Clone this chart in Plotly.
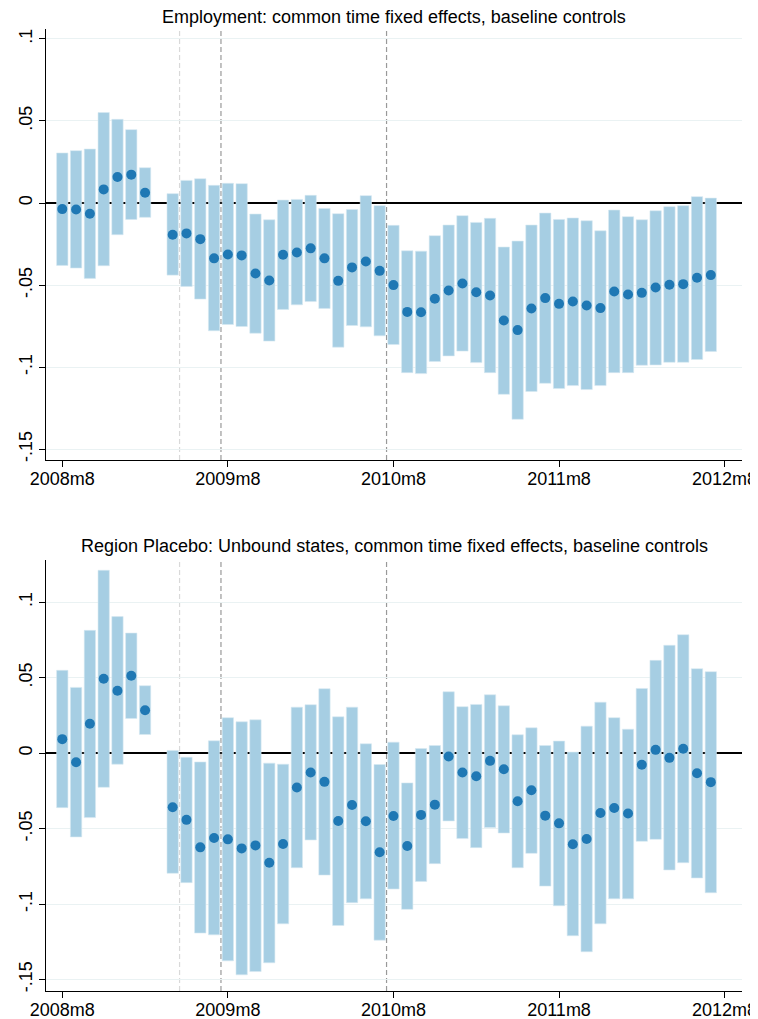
import plotly.graph_objects as go

# month index: 0 = 2008m8 ... 48 = 2012m8 (2009m3 missing)
months = [0, 1, 2, 3, 4, 5, 6] + list(range(8, 48))

emp_pt = [-0.0037, -0.0039, -0.0065, 0.0083, 0.0159, 0.0173, 0.0063,
          -0.0193, -0.0185, -0.0220, -0.0337, -0.0313, -0.0319, -0.0429,
          -0.0472, -0.0315, -0.0301, -0.0276, -0.0337, -0.0474, -0.0392,
          -0.0356, -0.0413, -0.0500, -0.0663, -0.0665, -0.0583, -0.0533,
          -0.0490, -0.0543, -0.0563, -0.0715, -0.0774, -0.0642, -0.0579,
          -0.0614, -0.0600, -0.0624, -0.0640, -0.0539, -0.0557, -0.0547,
          -0.0514, -0.0498, -0.0494, -0.0455, -0.0439]
emp_hi = [0.0305, 0.0319, 0.0329, 0.0551, 0.0510, 0.0447, 0.0215,
          0.0057, 0.0138, 0.0148, 0.0108, 0.0120, 0.0118, -0.0067,
          -0.0102, 0.0018, 0.0022, 0.0047, -0.0033, -0.0065, -0.0039,
          0.0045, -0.0016, -0.0136, -0.0291, -0.0293, -0.0199, -0.0134,
          -0.0077, -0.0118, -0.0093, -0.0268, -0.0232, -0.0134, -0.0061,
          -0.0100, -0.0091, -0.0108, -0.0169, -0.0043, -0.0083, -0.0102,
          -0.0047, -0.0022, -0.0016, 0.0039, 0.0030]
emp_lo = [-0.0380, -0.0396, -0.0459, -0.0382, -0.0193, -0.0100, -0.0087,
          -0.0439, -0.0508, -0.0585, -0.0778, -0.0740, -0.0752, -0.0793,
          -0.0841, -0.0648, -0.0620, -0.0600, -0.0642, -0.0878, -0.0746,
          -0.0754, -0.0809, -0.0862, -0.1033, -0.1039, -0.0965, -0.0931,
          -0.0902, -0.0972, -0.1033, -0.1165, -0.1317, -0.1148, -0.1098,
          -0.1130, -0.1112, -0.1136, -0.1112, -0.1033, -0.1033, -0.0988,
          -0.0986, -0.0970, -0.0970, -0.0953, -0.0904]

pla_pt = [0.0093, -0.0060, 0.0195, 0.0493, 0.0414, 0.0513, 0.0285,
          -0.0358, -0.0442, -0.0624, -0.0562, -0.0571, -0.0631, -0.0611,
          -0.0726, -0.0602, -0.0228, -0.0128, -0.0190, -0.0449, -0.0343,
          -0.0451, -0.0657, -0.0416, -0.0615, -0.0409, -0.0341, -0.0022,
          -0.0128, -0.0153, -0.0051, -0.0106, -0.0319, -0.0246, -0.0414,
          -0.0465, -0.0604, -0.0569, -0.0396, -0.0363, -0.0400, -0.0077,
          0.0022, -0.0031, 0.0029, -0.0133, -0.0192]
pla_hi = [0.0549, 0.0436, 0.0814, 0.1212, 0.0905, 0.0796, 0.0447,
          0.0018, -0.0027, -0.0058, 0.0082, 0.0235, 0.0208, 0.0221,
          -0.0066, -0.0073, 0.0305, 0.0321, 0.0427, 0.0241, 0.0305,
          0.0062, -0.0075, 0.0073, -0.0197, 0.0031, 0.0051, 0.0407,
          0.0308, 0.0323, 0.0387, 0.0314, 0.0122, 0.0168, 0.0051,
          0.0080, 0.0007, 0.0179, 0.0338, 0.0235, 0.0159, 0.0429,
          0.0615, 0.0715, 0.0785, 0.0560, 0.0540]
pla_lo = [-0.0361, -0.0555, -0.0427, -0.0226, -0.0073, 0.0230, 0.0124,
          -0.0796, -0.0858, -0.1192, -0.1204, -0.1376, -0.1469, -0.1447,
          -0.1389, -0.1131, -0.0759, -0.0575, -0.0808, -0.1142, -0.0991,
          -0.0965, -0.1239, -0.0900, -0.1035, -0.0850, -0.0732, -0.0449,
          -0.0566, -0.0626, -0.0493, -0.0529, -0.0759, -0.0664, -0.0881,
          -0.1011, -0.1210, -0.1316, -0.1131, -0.0965, -0.0965, -0.0584,
          -0.0571, -0.0774, -0.0726, -0.0827, -0.0925]

x_tickvals = [0, 12, 24, 36, 48]
x_ticktext = ["2008m8", "2009m8", "2010m8", "2011m8", "2012m8"]
y_tickvals = [0.1, 0.05, 0, -0.05, -0.1, -0.15]
y_ticktext = [".1", ".05", "0", "-.05", "-.1", "-.15"]

titles = ["Employment: common time fixed effects, baseline controls",
          "Region Placebo: Unbound states, common time fixed effects, baseline controls"]
vlines = [(8.5, "#d9d9d9"), (11.5, "#999999"), (23.5, "#999999")]

BAR = "rgb(166,206,227)"
DOT = "rgb(31,120,180)"
FONT = "Liberation Sans, Arial, sans-serif"

fig = go.Figure()
panels = [(emp_pt, emp_lo, emp_hi, "x", "y"), (pla_pt, pla_lo, pla_hi, "x2", "y2")]
for pt, lo, hi, xa, ya in panels:
    fig.add_trace(go.Bar(x=months, base=lo, y=[h - l for h, l in zip(hi, lo)],
                         width=0.82, marker=dict(color=BAR, line=dict(color="rgb(214,233,242)", width=0.6)),
                         xaxis=xa, yaxis=ya, showlegend=False, hoverinfo="skip"))
    fig.add_trace(go.Scatter(x=months, y=pt, mode="markers",
                             marker=dict(color=DOT, size=10),
                             xaxis=xa, yaxis=ya, showlegend=False))

common_x = dict(range=[-1.18, 49.26], tickvals=x_tickvals, ticktext=x_ticktext, automargin=False,
                showgrid=False, zeroline=False, showline=True, linecolor="black", linewidth=1,
                ticks="outside", ticklen=6, tickcolor="black", ticklabelstandoff=-4,
                tickfont=dict(size=18, color="black"))
common_y = dict(tickvals=y_tickvals, ticktext=y_ticktext, tickangle=-90, automargin=False,
                showgrid=True, gridcolor="rgb(234,242,243)", gridwidth=1,
                zeroline=True, zerolinecolor="black", zerolinewidth=1.5,
                showline=True, linecolor="black", linewidth=1, ticklabelstandoff=0,
                ticks="outside", ticklen=6, tickcolor="black", tickfont=dict(size=18, color="black"))

# page has an 8px body margin: figure placed at (8, 8)
fig.update_layout(
    width=760, height=1011,
    margin=dict(l=38, r=26, t=21, b=28, autoexpand=False),
    paper_bgcolor="white", plot_bgcolor="white",
    font=dict(family=FONT, color="black"),
    barmode="overlay",
    xaxis=dict(domain=[0, 1], anchor="y", **common_x),
    yaxis=dict(domain=[0.552, 1], anchor="x", range=[-0.1565, 0.106], **common_y),
    xaxis2=dict(domain=[0, 1], anchor="y2", **common_x),
    yaxis2=dict(domain=[0, 0.448], anchor="x2", range=[-0.1576, 0.128], **common_y),
)

for xa, ya in [("x", "y"), ("x2", "y2")]:
    for xv, col in vlines:
        fig.add_shape(type="line", xref=xa, yref=f"{ya} domain", x0=xv, x1=xv, y0=0, y1=1,
                      line=dict(color=col, width=1.2, dash="5px,3px"), layer="below")

fig.add_annotation(text=titles[0], xref="x domain", yref="paper", x=0.5, y=1, yshift=12,
                   yanchor="middle", showarrow=False, font=dict(size=18, color="black"))
fig.add_annotation(text=titles[1], xref="x domain", yref="paper", x=0.5, y=0.448, yshift=14,
                   yanchor="middle", showarrow=False, font=dict(size=18, color="black"))

fig.write_html("out.html")
